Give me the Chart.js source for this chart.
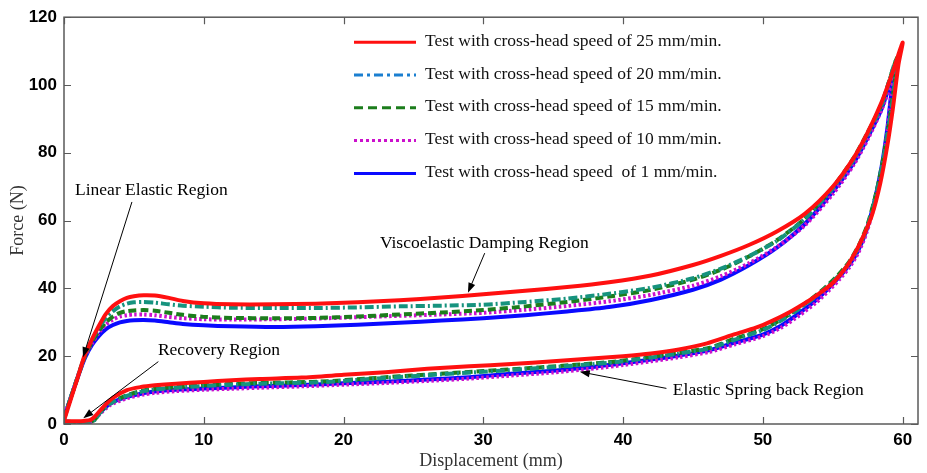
<!DOCTYPE html>
<html><head><meta charset="utf-8">
<script src="https://cdn.jsdelivr.net/npm/chart.js@4.4.0/dist/chart.umd.min.js"></script>
<style>html,body{margin:0;padding:0;background:#fff;}#wrap{width:927px;height:473px;position:relative;}</style>
</head><body><div id="wrap"><canvas id="c" width="927" height="473"></canvas></div>
<script>
// ---------- data ----------
const seriesNames = [
  'Test with cross-head speed of 25 mm/min.',
  'Test with cross-head speed of 20 mm/min.',
  'Test with cross-head speed of 15 mm/min.',
  'Test with cross-head speed of 10 mm/min.',
  'Test with cross-head speed  of 1 mm/min.'
];
const xTicks = [0, 10, 20, 30, 40, 50, 60];
const yTicks = [0, 20, 40, 60, 80, 100, 120];

// loading branch (shared displacement grid, mm)
const loadDisp = [0, 0.5, 1, 1.5, 2, 2.5, 3, 3.5, 4, 4.5, 5, 5.7, 6.5, 7.5, 8.5, 10, 12, 15, 18, 21, 24, 27, 30, 33, 36, 39, 42, 45, 47, 49, 51, 53, 55, 56.5, 57.5, 58.5];
const load25 = [1, 7.5, 14, 20.5, 25, 29, 32.5, 34.8, 36.2, 37.2, 37.7, 38, 37.9, 37.2, 36.3, 35.6, 35.3, 35.3, 35.5, 35.9, 36.5, 37.3, 38.3, 39.3, 40.4, 41.8, 43.8, 46.9, 49.6, 52.8, 56.8, 62, 70, 78.5, 86, 95];
const load20 = [1.5, 8, 14.2, 20.3, 24.8, 28.5, 31.3, 33.3, 34.7, 35.5, 35.9, 36, 35.8, 35.3, 34.9, 34.6, 34.3, 34.2, 34.2, 34.4, 34.7, 34.9, 35.2, 36, 37, 38.4, 40.2, 43, 45.8, 49.5, 54, 60.5, 69.5, 78, 85.5, 94];
const load15 = [1.5, 8, 14, 20, 24.2, 27.5, 30, 31.7, 32.8, 33.3, 33.5, 33.6, 33.4, 32.8, 32.2, 31.6, 31.3, 31.2, 31.3, 31.7, 32.3, 32.9, 33.6, 34.7, 36, 37.6, 39.6, 42.6, 45.5, 49.4, 54.2, 60.6, 69.8, 78.5, 86, 94.5];
const load10 = [1.5, 8, 14, 19.8, 23.8, 27, 29.3, 30.8, 31.7, 32.1, 32.3, 32.3, 32.1, 31.6, 31.2, 30.9, 30.8, 30.9, 31.1, 31.5, 31.9, 32.3, 32.8, 33.7, 34.8, 36.2, 38.1, 40.8, 43.6, 47.4, 52.2, 58.6, 67.8, 76.5, 84, 92.8];
const load1 = [2, 8, 14, 19.5, 23.3, 26, 28, 29.2, 30, 30.4, 30.6, 30.7, 30.5, 30, 29.5, 29.1, 28.8, 28.6, 28.8, 29.3, 29.9, 30.5, 31.2, 32.1, 33.2, 34.5, 36.6, 39.6, 42.6, 46.8, 52, 59, 68.5, 77, 84.5, 93];

// peak and unloading (return) branch
const returnDisp25 = [59.3, 60, 59.7, 59.3, 58.9, 58.4, 57.8, 57.2, 56.7, 56, 55, 54, 53, 52, 50.7, 49.5, 48, 46, 44, 42, 40, 38, 35, 32, 29, 26, 23, 20, 17, 14, 12, 10, 8, 6.5, 5.5, 4.5, 3.5, 2.8, 2.3, 1.9, 1.4, 1, 0.5, 0];
const returnForce25 = [104, 112.5, 106, 93, 82, 71, 61.5, 55.5, 51.3, 46.5, 41.6, 38.4, 35.6, 33.2, 30.5, 28.4, 26.5, 23.8, 22, 20.8, 20, 19.4, 18.5, 17.7, 17, 16.3, 15.3, 14.5, 13.7, 13.3, 12.9, 12.4, 11.9, 11.4, 10.9, 10, 7.7, 5, 2.6, 1.2, 0.9, 0.8, 0.8, 0.8];
const returnDisp20 = [59.5, 59.4, 59.0, 58.6, 58.1, 57.5, 56.9, 56.2, 55.4, 54.5, 53.5, 52.5, 51.3, 50, 48, 46.2, 44, 42, 39.6, 37, 34, 30, 26, 22, 18.3, 14, 12, 9.9, 8, 6.5, 5.7, 4.5, 3.3, 2.6, 2.2, 1.8, 1.4, 1, 0.5, 0];
const returnForce20 = [107, 99, 87.5, 77.5, 67.5, 58.5, 52.6, 47.6, 43.6, 40.1, 36.7, 33.7, 30.5, 27.7, 24.9, 22.3, 20.8, 19.6, 18.3, 17.4, 16.5, 15.4, 14.4, 13.3, 12.3, 11.9, 11.6, 11.2, 10.7, 10.2, 9.7, 8.3, 6, 3.4, 1.2, 0.5, 0.5, 0.5, 0.6, 0.7];
const returnDisp15 = [59.6, 59.4, 59.0, 58.6, 58.1, 57.5, 56.9, 56.2, 55.4, 54.5, 53.5, 52.5, 51.3, 50, 48, 46.2, 44, 42, 39.6, 37, 34, 30, 26, 22, 18.3, 14, 12, 9.9, 8, 6.5, 5.7, 4.5, 3.3, 2.6, 2.2, 1.8, 1.4, 1, 0.5, 0];
const returnForce15 = [108, 100, 88, 78, 68, 59, 53, 48, 44, 40.4, 37, 34, 30.8, 28, 25.2, 22.5, 21, 19.8, 18.5, 17.6, 16.7, 15.6, 14.6, 13.5, 12.5, 12.1, 11.8, 11.4, 10.9, 10.4, 9.9, 8.5, 6.2, 3.6, 1.3, 0.5, 0.5, 0.5, 0.6, 0.7];
const returnDisp10 = [59.4, 59.2, 58.9, 58.5, 58, 57.4, 56.8, 56.2, 55.5, 54.7, 53.8, 52.6, 51.3, 50, 48, 46.2, 44, 42, 40, 38, 35, 32, 29, 26, 23, 20, 17, 14, 12, 10, 8, 6.5, 5.7, 4.5, 3.3, 2.6, 2.1, 1.8, 1.4, 1, 0.5, 0];
const returnForce10 = [103, 97, 86, 75, 65, 56.3, 50.3, 46.3, 42.8, 39.3, 35.8, 32, 28.4, 25.9, 23.5, 21.3, 19.7, 18.5, 17.4, 16.4, 15.2, 14.3, 13.4, 12.7, 12.1, 11.6, 11.1, 10.7, 10.4, 10.1, 9.7, 9.2, 8.7, 7.6, 5.6, 3.1, 1, 0.5, 0.5, 0.5, 0.6, 0.7];
const returnDisp1 = [59.4, 59.2, 58.9, 58.5, 58, 57.4, 56.8, 56.2, 55.5, 54.7, 53.8, 52.6, 51.3, 50, 48, 46.2, 44, 42, 40, 38, 35, 32, 29, 26, 23, 20, 17, 14, 12, 10, 8, 6.5, 5.7, 4.5, 3.3, 2.6, 2.1, 1.8, 1.4, 1, 0.5, 0];
const returnForce1 = [104, 98, 87, 76, 66, 57, 51, 47, 43.5, 40, 36.5, 32.7, 29, 26.4, 24, 21.8, 20.2, 19, 17.9, 16.9, 15.7, 14.8, 13.8, 13.1, 12.5, 12, 11.5, 11.1, 10.8, 10.5, 10.1, 9.6, 9.1, 8, 6, 3.5, 1.2, 0.5, 0.5, 0.5, 0.6, 0.7];

const noteLabels = ['Linear Elastic Region', 'Viscoelastic Damping Region', 'Recovery Region', 'Elastic Spring back Region'];

// ---------- build ----------
function loop(load, rd, rf) {
  return loadDisp.map((d, i) => ({x: d, y: load[i]}))
    .concat(rd.map((d, i) => ({x: d, y: rf[i]})));
}
const styles = [
  {color: '#ff1010', legendColor: '#ff1010', dash: [], legendDash: []},
  {color: '#16937e', legendColor: '#1a7fd0', dash: [9, 3, 2, 3], legendDash: [9, 4, 3, 4]},
  {color: '#1c7d1c', legendColor: '#1c7d1c', dash: [8, 4], legendDash: [9, 5]},
  {color: '#cc10cc', legendColor: '#cc10cc', dash: [2.5, 2.5], legendDash: [3, 3]},
  {color: '#0a0aff', legendColor: '#0a0aff', dash: [], legendDash: []}
];
const loops = [
  loop(load25, returnDisp25, returnForce25),
  loop(load20, returnDisp20, returnForce20),
  loop(load15, returnDisp15, returnForce15),
  loop(load10, returnDisp10, returnForce10),
  loop(load1, returnDisp1, returnForce1)
];

const framePlugin = {
  id: 'frame',
  afterDatasetsDraw(chart, args, opts) {
    const {ctx, chartArea: a, scales: {x, y}} = chart;
    ctx.save();
    ctx.strokeStyle = '#5a5a5a';
    ctx.lineWidth = 1.5;
    ctx.strokeRect(a.left, a.top, a.right - a.left, a.bottom - a.top);
    ctx.lineWidth = 1.2;
    ctx.beginPath();
    xTicks.forEach(v => {
      const px = Math.round(x.getPixelForValue(v)) + 0.5;
      ctx.moveTo(px, a.bottom); ctx.lineTo(px, a.bottom - 7);
      ctx.moveTo(px, a.top); ctx.lineTo(px, a.top + 7);
    });
    yTicks.forEach(v => {
      const py = Math.round(y.getPixelForValue(v)) + 0.5;
      ctx.moveTo(a.left, py); ctx.lineTo(a.left + 7, py);
      ctx.moveTo(a.right, py); ctx.lineTo(a.right - 7, py);
    });
    ctx.stroke();

    ctx.fillStyle = '#000';
    ctx.strokeStyle = '#000';
    ctx.font = '17.5px "Liberation Serif", "Times New Roman", serif';
    ctx.textBaseline = 'middle';
    ctx.textAlign = 'left';
    opts.notes.forEach((n, i) => {
      ctx.fillText(noteLabels[i], x.getPixelForValue(n.text[0]), y.getPixelForValue(n.text[1]));
      const x0 = x.getPixelForValue(n.tail[0]), y0 = y.getPixelForValue(n.tail[1]);
      const x1 = x.getPixelForValue(n.head[0]), y1 = y.getPixelForValue(n.head[1]);
      const ang = Math.atan2(y1 - y0, x1 - x0);
      const L = 10, W = 3.6;
      ctx.lineWidth = 1;
      ctx.beginPath();
      ctx.moveTo(x0, y0);
      ctx.lineTo(x1 - Math.cos(ang) * L * 0.8, y1 - Math.sin(ang) * L * 0.8);
      ctx.stroke();
      ctx.beginPath();
      ctx.moveTo(x1, y1);
      ctx.lineTo(x1 - Math.cos(ang) * L - Math.sin(ang) * W, y1 - Math.sin(ang) * L + Math.cos(ang) * W);
      ctx.lineTo(x1 - Math.cos(ang) * L + Math.sin(ang) * W, y1 - Math.sin(ang) * L - Math.cos(ang) * W);
      ctx.closePath();
      ctx.fill();
    });

    const lx = a.left + 290, tx = a.left + 361;
    chart.data.datasets.forEach((ds, i) => {
      const ry = a.top + 25 + i * 32.8;
      ctx.save();
      ctx.strokeStyle = styles[i].legendColor;
      ctx.lineWidth = 3;
      ctx.setLineDash(styles[i].legendDash);
      ctx.beginPath();
      ctx.moveTo(lx, ry); ctx.lineTo(lx + 62, ry);
      ctx.stroke();
      ctx.restore();
      ctx.fillStyle = '#111';
      ctx.fillText(ds.label, tx, ry - 1);
    });
    ctx.restore();
  }
};

new Chart(document.getElementById('c'), {
  type: 'line',
  data: {
    datasets: loops.map((d, i) => ({
      label: seriesNames[i],
      data: d,
      borderColor: styles[i].color,
      backgroundColor: styles[i].color,
      borderDash: styles[i].dash,
      borderWidth: 4,
      pointRadius: 0,
      tension: 0.25,
      fill: false
    }))
  },
  options: {
    responsive: false,
    animation: false,
    events: [],
    layout: {padding: {left: 0, right: 9, top: 17, bottom: 0}},
    plugins: {
      legend: {display: false},
      tooltip: {enabled: false},
      frame: {
        notes: [
          {text: [0.79, 69], tail: [4.86, 65.5], head: [1.36, 19.7]},
          {text: [22.6, 53.4], tail: [30.1, 50.4], head: [28.9, 38.7]},
          {text: [6.72, 21.8], tail: [6.75, 18.4], head: [1.38, 1.7]},
          {text: [43.56, 10], tail: [43.1, 10.5], head: [36.9, 15.4]}
        ]
      }
    },
    scales: {
      x: {
        type: 'linear', min: 0, max: 61.1,
        afterBuildTicks: ax => { ax.ticks = xTicks.map(v => ({value: v})); },
        afterFit: ax => { ax.height = 49; },
        grid: {display: false, drawTicks: false},
        border: {display: false},
        ticks: {padding: 6, maxRotation: 0, color: '#000', font: {family: '"Liberation Sans", Arial, sans-serif', size: 17, weight: 'bold'}},
        title: {display: true, text: 'Displacement (mm)', color: '#333', font: {family: '"Liberation Serif", "Times New Roman", serif', size: 18}, padding: {top: 0, bottom: 1}}
      },
      y: {
        type: 'linear', min: 0, max: 120,
        afterBuildTicks: ax => { ax.ticks = yTicks.map(v => ({value: v})); },
        afterFit: ax => { ax.width = 64; },
        grid: {display: false, drawTicks: false},
        border: {display: false},
        ticks: {padding: 7, color: '#000', font: {family: '"Liberation Sans", Arial, sans-serif', size: 17, weight: 'bold'}},
        title: {display: true, text: 'Force (N)', color: '#333', font: {family: '"Liberation Serif", "Times New Roman", serif', size: 18}, padding: {top: 7, bottom: 0}}
      }
    }
  },
  plugins: [framePlugin]
});
</script>
</body></html>
